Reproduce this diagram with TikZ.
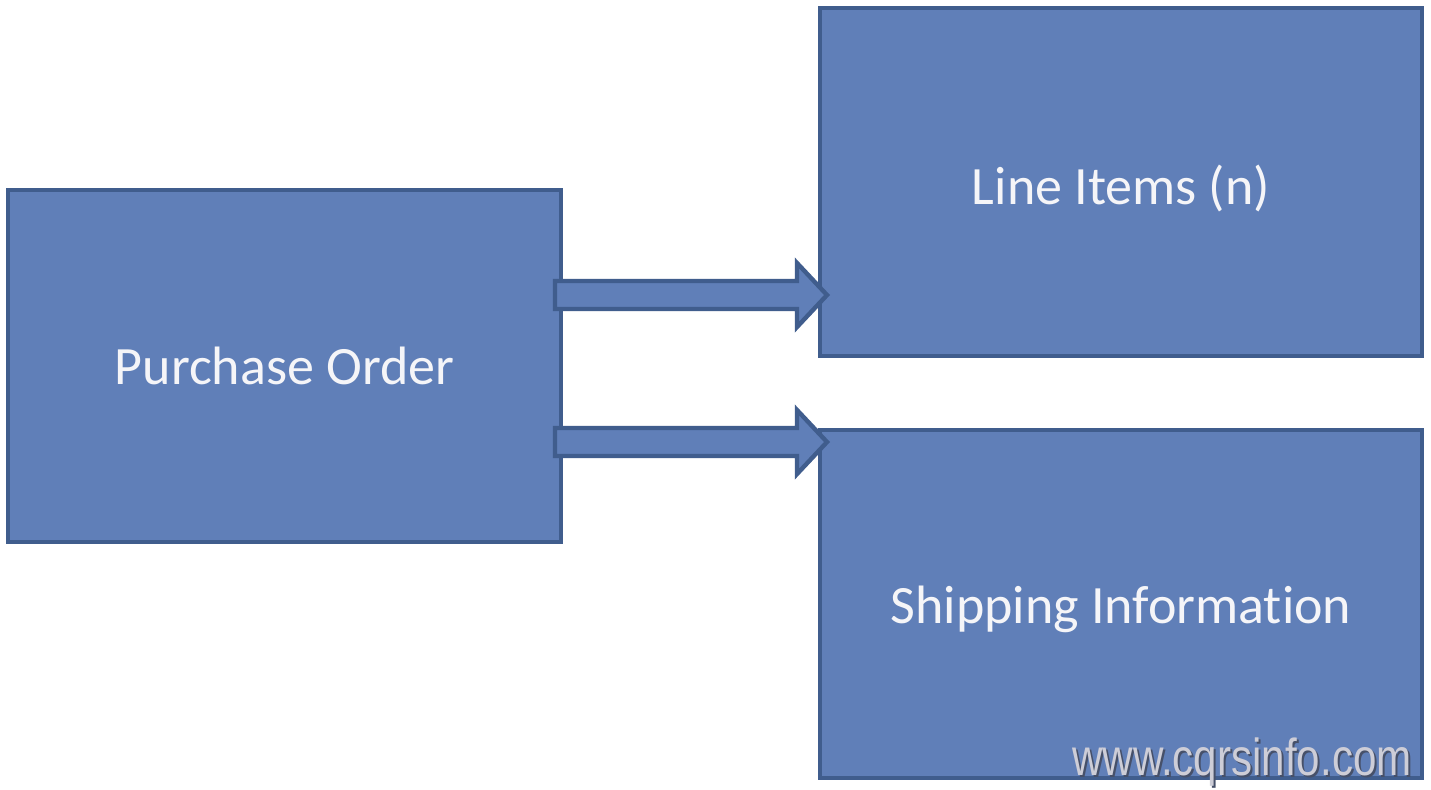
\documentclass[tikz,border=0pt]{standalone}
\usepackage{fontspec}
\setmainfont{Carlito}[Ligatures=NoCommon]
\newfontfamily\wmfont{Liberation Sans}
\usetikzlibrary{calc}
\definecolor{boxfill}{RGB}{96,127,184}
\definecolor{boxline}{RGB}{64,93,141}
\definecolor{boxtext}{RGB}{245,245,248}
\definecolor{wmtext}{RGB}{205,205,215}
\definecolor{wmshadow}{RGB}{70,80,105}
\tikzset{
  blockbox/.style={draw=boxline, fill=boxfill, line width=2.4pt, outer sep=0pt,
    text=boxtext, font=\fontsize{27}{32}\selectfont, align=center},
  fatarr/.style={draw=boxline, fill=boxfill, line width=2.2pt, line join=miter}
}
\newcommand\fatarrow[2]{%
  \draw[fatarr] ($(#1)+(-6,-14)$) -- ($(#2)+(-23,-14)$) -- ($(#2)+(-23,-32)$)
    -- ($(#2)+(7,0)$) -- ($(#2)+(-23,32)$) -- ($(#2)+(-23,14)$)
    -- ($(#1)+(-6,14)$) -- cycle;}
\begin{document}
\begin{tikzpicture}[x=0.5pt,y=-0.5pt]
\useasboundingbox (0,0) rectangle (1431,789);
\fill[white] (0,0) rectangle (1431,789);
\node[blockbox, minimum width=276.5pt, minimum height=176pt] (po) at (284.5,366) {Purchase Order};
\node[blockbox, minimum width=301pt, minimum height=174pt] (li) at (1121,182) {\raisebox{-3pt}[\height][\depth]{Line Items (n)}};
\node[blockbox, minimum width=301pt, minimum height=174pt] (si) at (1121,604) {\raisebox{-2.5pt}[\height][\depth]{Shipping Information}};
\coordinate (a1s) at (po.east |- 0,295);
\coordinate (a1e) at (li.west |- 0,295);
\coordinate (a2s) at (po.east |- 0,442);
\coordinate (a2e) at (si.west |- 0,442);
\fatarrow{a1s}{a1e}
\fatarrow{a2s}{a2e}
\node[anchor=base east, inner sep=0pt, text=wmshadow, font=\wmfont\fontsize{26}{30}\selectfont, xscale=0.81] (wms) at (1414,777) {www.cqrsinfo.com};
\node[anchor=base east, inner sep=0pt, text=wmtext, font=\wmfont\fontsize{26}{30}\selectfont, xscale=0.81] (wm) at (1412,775) {www.cqrsinfo.com};
\end{tikzpicture}
\end{document}
